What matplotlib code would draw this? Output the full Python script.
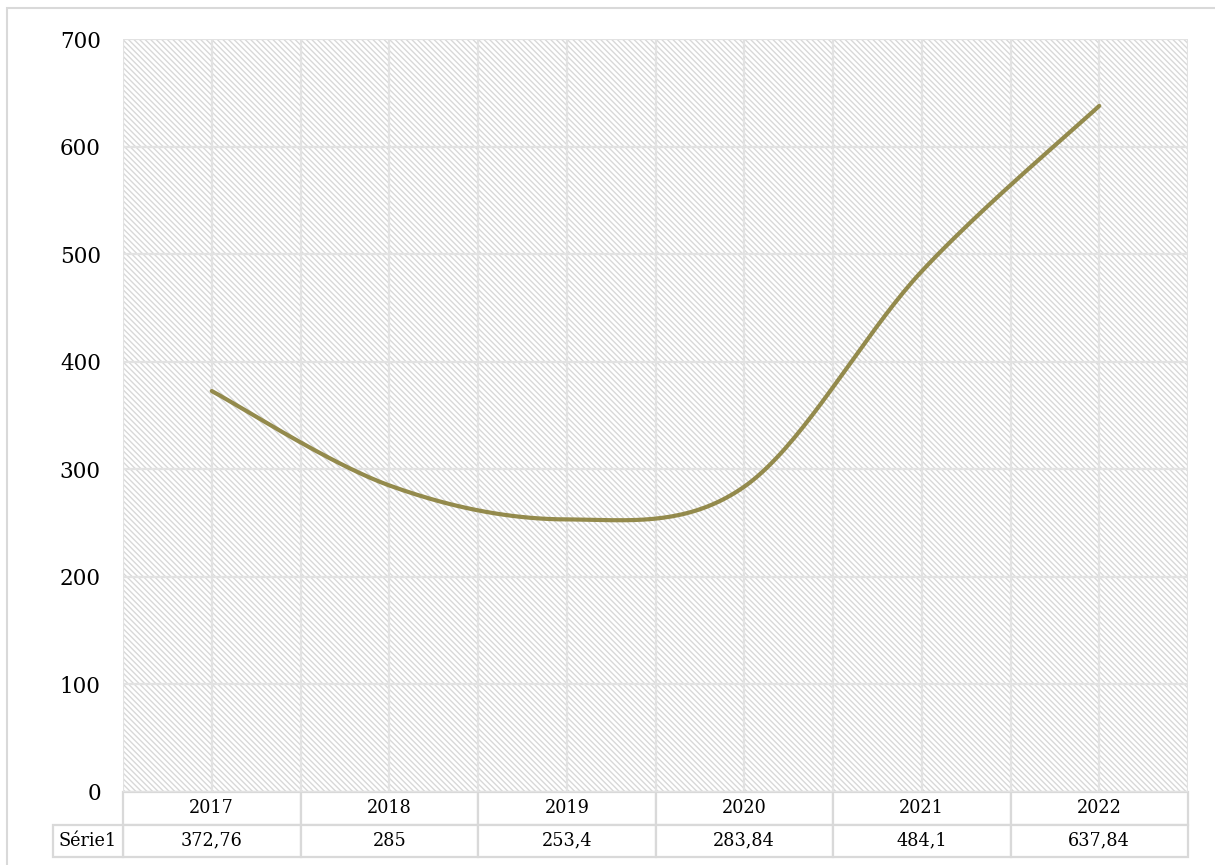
import numpy as np
import matplotlib
matplotlib.use('Agg')
import matplotlib.pyplot as plt
from matplotlib.patches import Rectangle
from matplotlib.transforms import blended_transform_factory

years = ['2017', '2018', '2019', '2020', '2021', '2022']
values = [372.76, 285, 253.4, 283.84, 484.1, 637.84]
value_labels = ['372,76', '285', '253,4', '283,84', '484,1', '637,84']
series_name = 'Série1'

line_color = '#938a4c'
grid_color = '#e2e2e2'
cell_color = '#d9d9d9'

plt.rcParams['font.family'] = ['DejaVu Serif']
plt.rcParams['hatch.linewidth'] = 1.0
plt.rcParams['hatch.color'] = '#d8d8d8'


def smooth_curve(x, y, steps=40):
    # Catmull-Rom style bezier through every point, like a spreadsheet "smoothed line"
    x = np.asarray(x, float)
    y = np.asarray(y, float)
    px, py = [], []
    n = len(x)
    for i in range(n - 1):
        x0, y0 = (x[i - 1], y[i - 1]) if i > 0 else (x[i], y[i])
        x3, y3 = (x[i + 2], y[i + 2]) if i + 2 < n else (x[i + 1], y[i + 1])
        x1, y1 = x[i], y[i]
        x2, y2 = x[i + 1], y[i + 1]
        c1x, c1y = x1 + (x2 - x0) / 6, y1 + (y2 - y0) / 6
        c2x, c2y = x2 - (x3 - x1) / 6, y2 - (y3 - y1) / 6
        t = np.linspace(0, 1, steps)
        a, b, c, d = (1 - t) ** 3, 3 * (1 - t) ** 2 * t, 3 * (1 - t) * t ** 2, t ** 3
        px.extend(a * x1 + b * c1x + c * c2x + d * x2)
        py.extend(a * y1 + b * c1y + c * c2y + d * y2)
    return np.array(px), np.array(py)


fig = plt.figure(figsize=(12.15, 8.65), dpi=100)
fig.patches.append(Rectangle((7 / 1215, -0.1), 1.2, 1 - 8 / 865 + 0.1, transform=fig.transFigure,
                             fill=False, edgecolor='#d9d9d9', linewidth=1.5, zorder=0))

ax = fig.add_axes([123 / 1215, 1 - 792 / 865, 1065 / 1215, 753 / 865])
ax.set_facecolor('white')
ax.add_patch(Rectangle((0, 0), 1, 1, transform=ax.transAxes, facecolor='white',
                       edgecolor='#d8d8d8', hatch='\\' * 6, linewidth=0, zorder=0))

xs = np.arange(len(years))
sx, sy = smooth_curve(xs, values)
ax.plot(sx, sy, color=line_color, linewidth=3, solid_capstyle='round', zorder=3)

ax.set_xlim(-0.5, len(years) - 0.5)
ax.set_ylim(0, 700)
ax.set_yticks(np.arange(0, 701, 100))
ax.set_xticks(np.arange(-0.5, len(years), 0.5))
ax.set_xticklabels([])
ax.tick_params(axis='both', length=0)
ax.tick_params(axis='y', labelsize=15.5, pad=16)
ax.grid(True, color=grid_color, linewidth=1.6, zorder=1)
for s in ax.spines.values():
    s.set_visible(False)

# data table under the plot area: x in data units, y in axes units
trans = blended_transform_factory(ax.transData, ax.transAxes)
row_h = 32.5 / 753
label_w = 70 / (1065 / len(years))
for i, (yr, lab) in enumerate(zip(years, value_labels)):
    for row, txt in ((1, yr), (2, lab)):
        y0 = -row * row_h
        ax.add_patch(Rectangle((i - 0.5, y0), 1, row_h, transform=trans, facecolor='white',
                               edgecolor=cell_color, linewidth=1.6, clip_on=False))
        ax.text(i, y0 + row_h / 2, txt, transform=trans, ha='center', va='center',
                fontsize=12.7, clip_on=False)
ax.add_patch(Rectangle((-0.5 - label_w, -2 * row_h), label_w, row_h, transform=trans,
                       facecolor='white', edgecolor=cell_color, linewidth=1.6, clip_on=False))
ax.text(-0.5 - label_w / 2, -1.5 * row_h, series_name, transform=trans, ha='center',
        va='center', fontsize=12.7, clip_on=False)

fig.savefig('out.png', dpi=100)
